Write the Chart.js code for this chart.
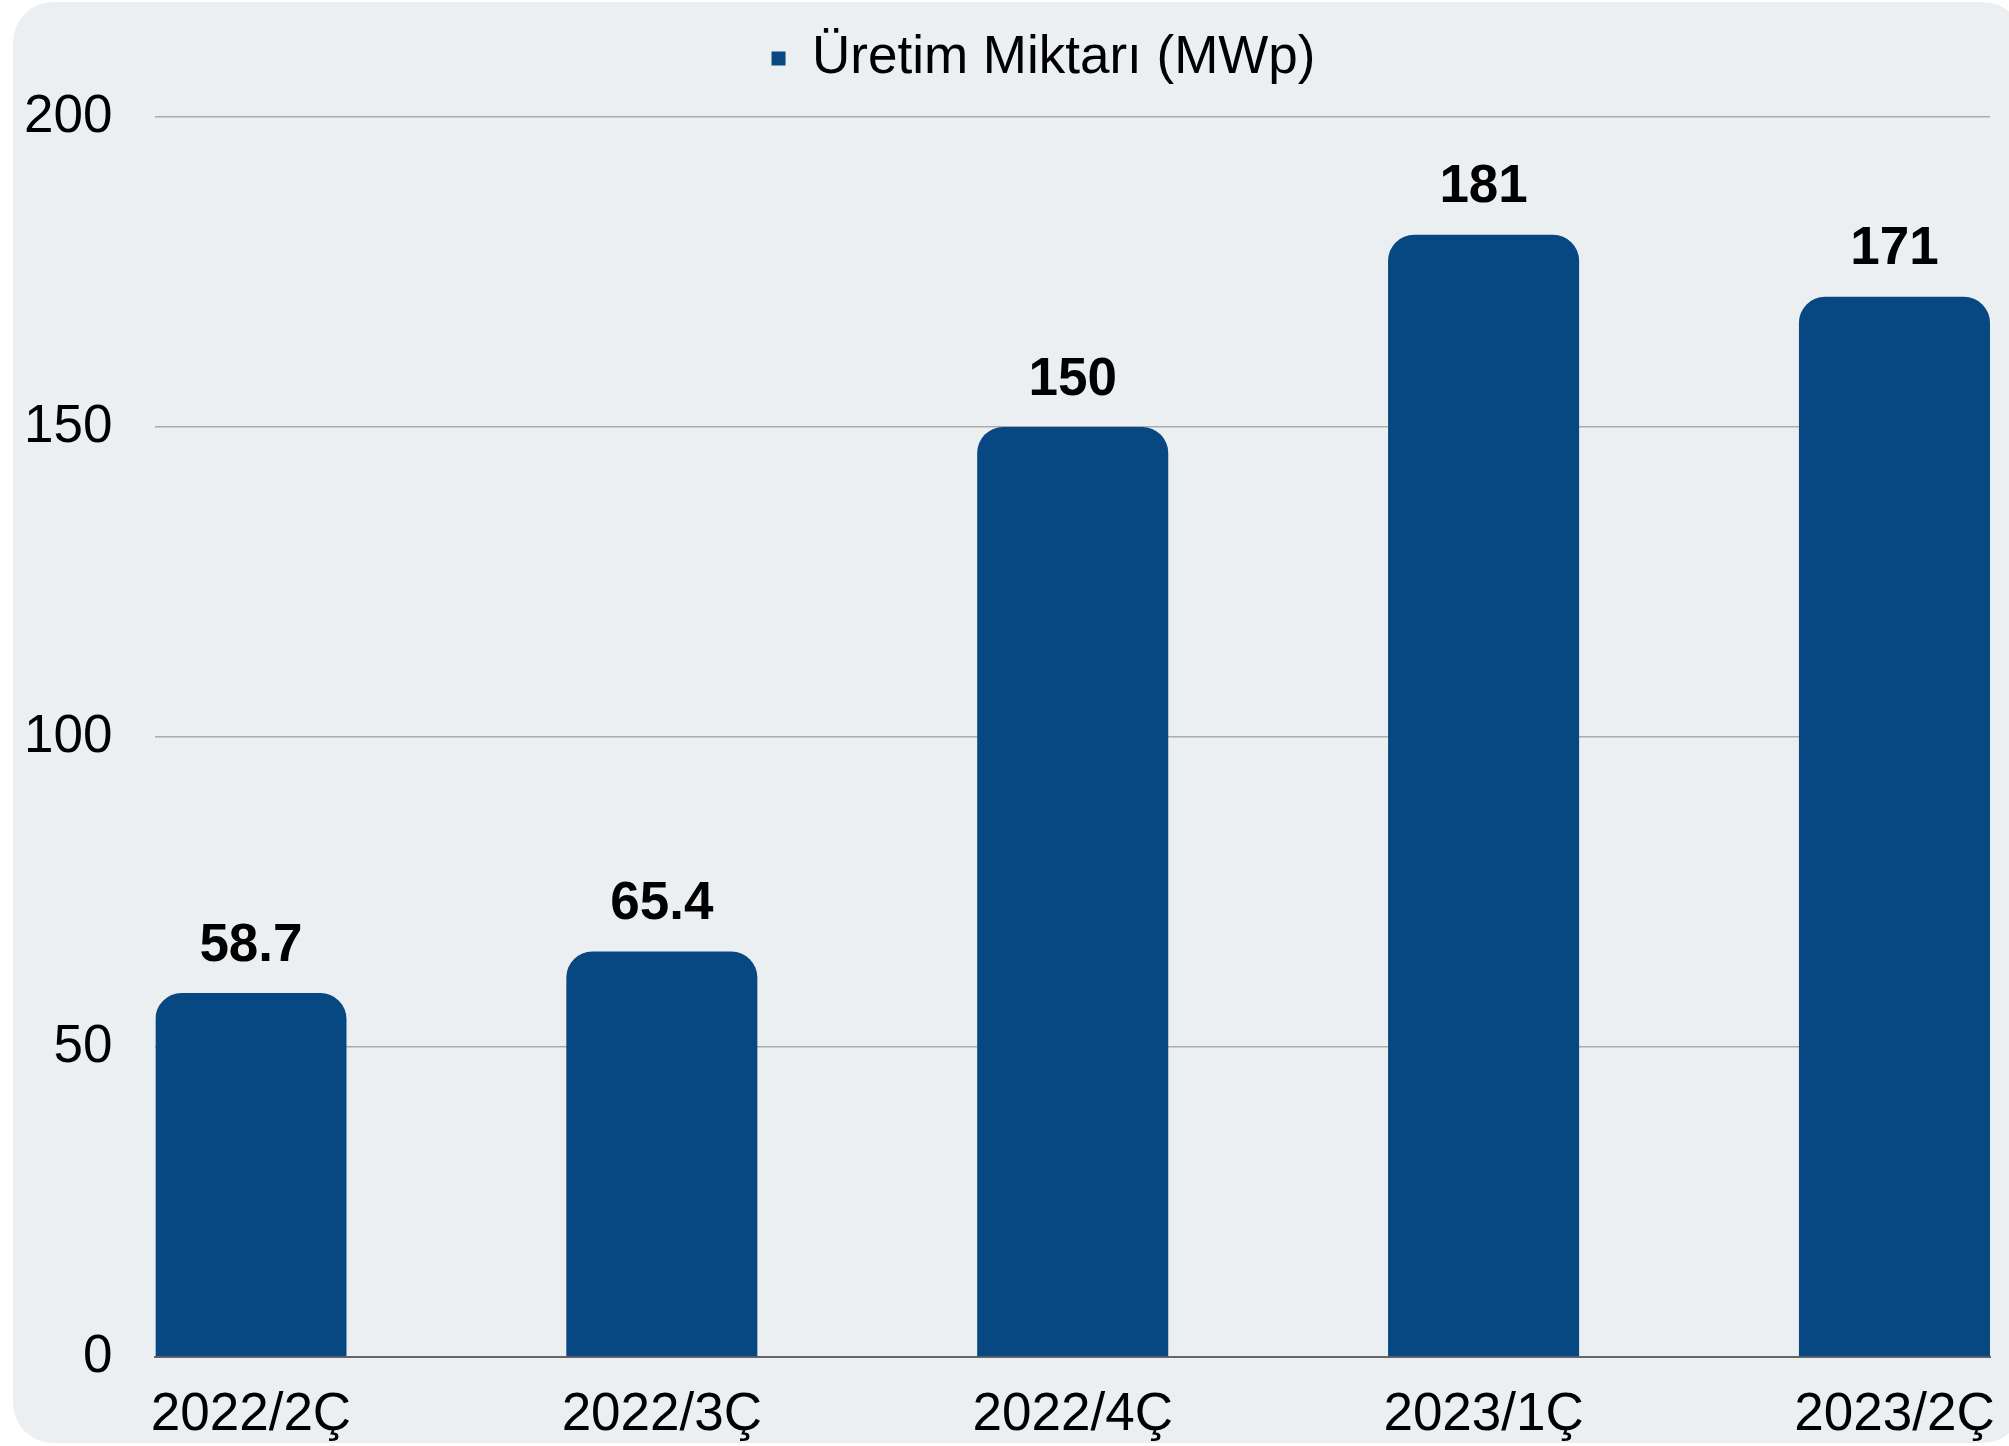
<!DOCTYPE html>
<html>
<head>
<meta charset="utf-8">
<script src="https://cdn.jsdelivr.net/npm/chart.js@4.4.0/dist/chart.umd.min.js"></script>
<style>
    html, body { margin: 0; padding: 0; background: #ffffff; }
    #kart {
        position: absolute; left: 13px; top: 2px;
        width: 2010px; height: 1441px;
        background: #eceff2; border-radius: 40px;
    }
    #kutu { position: absolute; left: 0; top: 0; width: 2009px; height: 1446px; }
</style>
</head>
<body>
<div id="kart"></div>
<div id="kutu"><canvas id="grafik"></canvas></div>
<script>
// Veriler
const donemler = ['2022/2Ç', '2022/3Ç', '2022/4Ç', '2023/1Ç', '2023/2Ç'];
const uretim = [58.7, 65.4, 150, 181, 171];
const yTikler = [0, 50, 100, 150, 200];
const seriAdi = 'Üretim Miktarı (MWp)';

const LACIVERT = '#084882';
const YAZI = 'Liberation Sans, Arial, sans-serif';

// Çubukların üstüne değer yazan küçük eklenti
const degerEtiketi = {
    id: 'degerEtiketi',
    afterDatasetsDraw(chart) {
        const { ctx } = chart;
        const meta = chart.getDatasetMeta(0);
        ctx.save();
        ctx.font = 'bold 53px ' + YAZI;
        ctx.fillStyle = '#000';
        ctx.textAlign = 'center';
        ctx.textBaseline = 'middle';
        meta.data.forEach((bar, i) => {
            ctx.fillText(String(uretim[i]), bar.x, bar.y - 47);
        });
        ctx.restore();
    }
};

// Lejant biraz sağda duruyor
const lejantKaydir = {
    id: 'lejantKaydir',
    afterLayout(chart) {
        chart.legend.left += 58;
        chart.legend.right += 58;
    }
};

const ctx = document.getElementById('grafik').getContext('2d');
const yarim = 0.2325;

window.grafik = new Chart(ctx, {
    type: 'bar',
    data: {
        datasets: [{
            label: seriAdi,
            data: uretim.map((v, i) => ({ x: i, y: v })),
            backgroundColor: LACIVERT,
            borderRadius: { topLeft: 26, topRight: 26 },
            borderSkipped: 'bottom',
            categoryPercentage: 1,
            barPercentage: 0.465
        }]
    },
    options: {
        responsive: true,
        maintainAspectRatio: false,
        animation: false,
        layout: { padding: { left: -19, right: 19, top: 0, bottom: 0 } },
        plugins: {
            legend: {
                position: 'top',
                weight: 3000,
                labels: {
                    boxWidth: 14,
                    boxHeight: 14,
                    padding: 32,
                    color: '#000',
                    font: { family: YAZI, size: 53 }
                }
            },
            // lejant ile grafik arasında boşluk
            title: {
                display: true,
                text: '',
                font: { size: 1, lineHeight: 1 },
                padding: { top: 0, bottom: 21 }
            },
            tooltip: { enabled: false }
        },
        scales: {
            x: {
                type: 'linear',
                min: -yarim,
                max: donemler.length - 1 + yarim,
                offset: false,
                afterBuildTicks: s => { s.ticks = donemler.map((_, i) => ({ value: i })); },
                afterFit: s => {
                    s.height = 89;
                    s.paddingLeft = 0;
                    s.paddingRight = 0;
                },
                grid: { display: false, drawTicks: false },
                border: { display: true, color: '#666666', width: 2 },
                ticks: {
                    autoSkip: false,
                    maxRotation: 0,
                    padding: 27,
                    color: '#000',
                    font: { family: YAZI, size: 53 },
                    callback: v => donemler[v]
                }
            },
            y: {
                min: 0,
                max: 200,
                afterBuildTicks: s => { s.ticks = yTikler.map(v => ({ value: v })); },
                grid: { color: '#ababab', lineWidth: 1.5, drawTicks: false },
                border: { display: false },
                ticks: {
                    padding: 43,
                    color: '#000',
                    font: { family: YAZI, size: 53 }
                }
            }
        }
    },
    plugins: [degerEtiketi, lejantKaydir]
});
</script>
</body>
</html>
